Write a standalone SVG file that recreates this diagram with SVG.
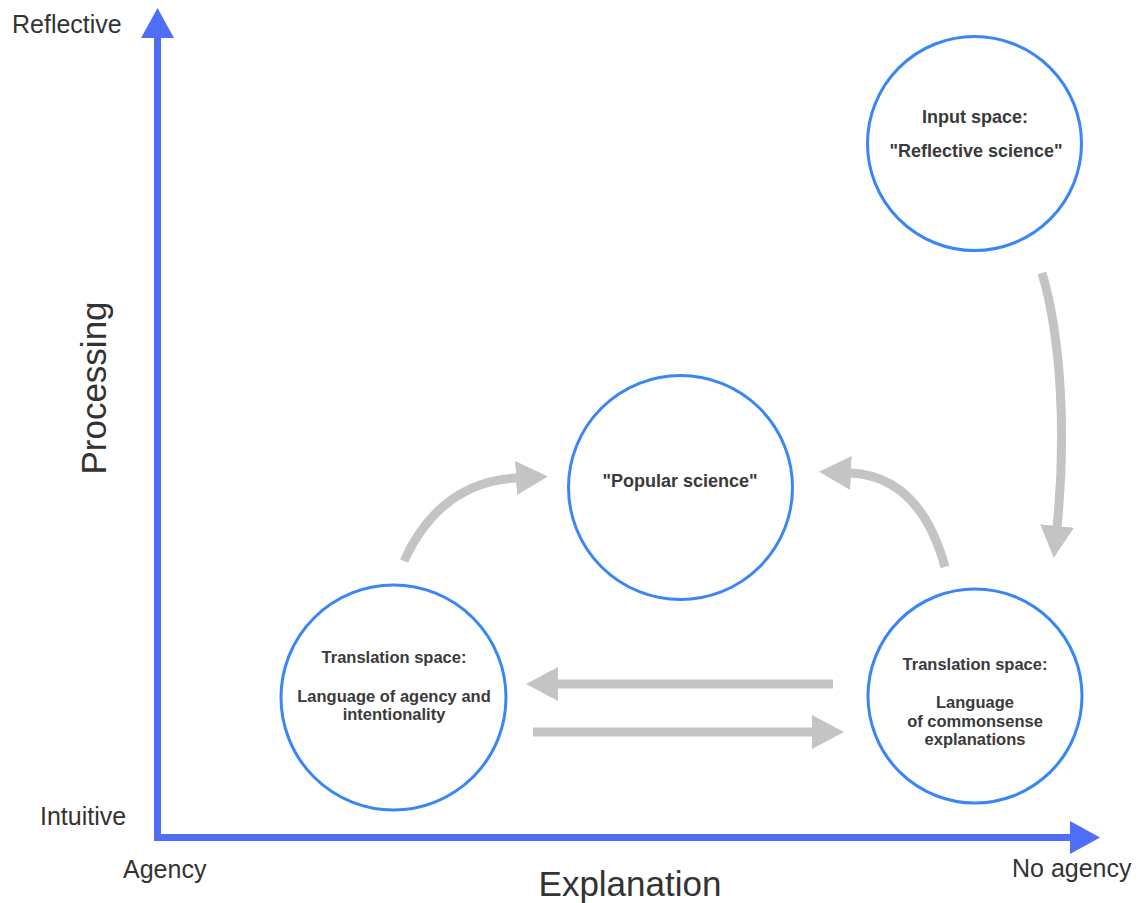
<svg xmlns="http://www.w3.org/2000/svg" width="1145" height="903" viewBox="0 0 1145 903">
<style>
.axis{stroke:#4e6ef5;stroke-width:7;fill:none}
.node circle{fill:#fff;stroke:#3a86f5;stroke-width:3}
.lbl{font-family:"Liberation Sans",Arial,sans-serif;fill:#333}
.ax{font-size:25px}
.big{font-size:35px}
.nt{font-family:"Liberation Sans",Arial,sans-serif;font-weight:bold;fill:#3a3a3a;text-anchor:middle}
.n18{font-size:18px}
.n16{font-size:16.5px}
.conn path{fill:none;stroke:#c4c4c4;stroke-width:9}
</style>
<defs>
<marker id="ah" markerUnits="userSpaceOnUse" viewBox="0 0 32 34" refX="1" refY="17" markerWidth="32" markerHeight="34" orient="auto">
<path d="M0,0 L32,17 L0,34 z" fill="#c4c4c4"/>
</marker>
<marker id="axh" markerUnits="userSpaceOnUse" viewBox="0 0 30 33" refX="1" refY="16.5" markerWidth="30" markerHeight="33" orient="auto">
<path d="M0,0 L30,16.5 L0,33 z" fill="#4e6ef5"/>
</marker>
</defs>
<rect width="1145" height="903" fill="#fff"/>
<g id="axes">
<path class="axis" d="M157.5,837.5 L157.5,37" marker-end="url(#axh)"/>
<path class="axis" d="M154,837.5 L1071,837.5" marker-end="url(#axh)"/>
<path d="M154,834 h7 v7 h-7z" fill="#4e6ef5"/>
</g>
<g id="axis-labels">
<text class="lbl ax" x="12" y="33">Reflective</text>
<text class="lbl ax" x="40" y="825">Intuitive</text>
<text class="lbl ax" x="123" y="878">Agency</text>
<text class="lbl ax" x="1012" y="877">No agency</text>
<text class="lbl big" x="630" y="896" text-anchor="middle">Explanation</text>
<text class="lbl big" text-anchor="middle" transform="translate(106,388) rotate(-90)">Processing</text>
</g>
<g id="connectors" class="conn">
<path d="M1042,273 C1062,340 1066,440 1057,527" marker-end="url(#ah)"/>
<path d="M404,561 Q440,482 517,478" marker-end="url(#ah)"/>
<path d="M945,567 Q920,476 850,473" marker-end="url(#ah)"/>
<path d="M833,684 L557,684" marker-end="url(#ah)"/>
<path d="M533,732 L813,732" marker-end="url(#ah)"/>
</g>
<g id="input-space" class="node">
<circle cx="974.5" cy="143.5" r="107"/>
<text class="nt n18" x="975" y="123">Input space:</text>
<text class="nt n18" x="976" y="157">"Reflective science"</text>
</g>
<g id="popular-science" class="node">
<circle cx="680.5" cy="487.5" r="112"/>
<text class="nt n18" x="680" y="487">"Popular science"</text>
</g>
<g id="translation-agency" class="node">
<circle cx="393.5" cy="697.5" r="112.5"/>
<text class="nt n16" x="394" y="663">Translation space:</text>
<text class="nt n16" x="394" y="702">Language of agency and</text>
<text class="nt n16" x="394" y="720">intentionality</text>
</g>
<g id="translation-commonsense" class="node">
<circle cx="975" cy="696" r="107"/>
<text class="nt n16" x="975" y="670">Translation space:</text>
<text class="nt n16" x="975" y="708">Language</text>
<text class="nt n16" x="975" y="727">of commonsense</text>
<text class="nt n16" x="975" y="745">explanations</text>
</g>
</svg>
